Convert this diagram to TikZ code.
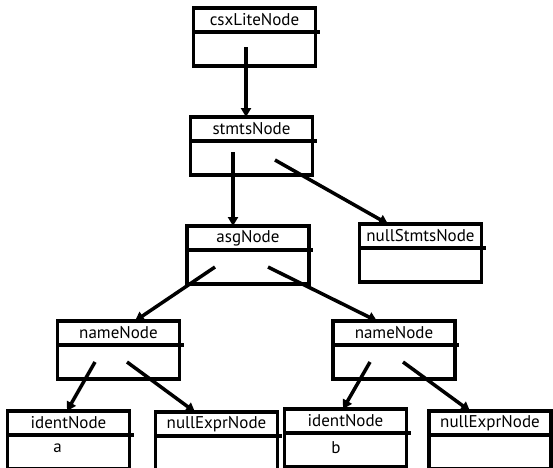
\documentclass[tikz,border=0pt]{standalone}
\usepackage{fontspec}
\setmainfont{PT Sans}
\usetikzlibrary{arrows.meta,positioning}
\tikzset{headcell/.style={draw,rectangle,line width=3.5pt,minimum width=122pt,minimum height=24pt,
        inner sep=0,outer sep=0,anchor=north,font=\fontsize{17}{19}\selectfont,
        append after command={(\tikzlastnode.south east) edge[line width=3.5pt] ([xshift=4pt]\tikzlastnode.south east)}},
    bodycell/.style={draw,rectangle,line width=3.5pt,minimum width=122pt,minimum height=34pt,inner sep=0,outer sep=0},
    valtext/.style={font=\fontsize{17}{19}\selectfont,inner sep=0},
    ptr/.style={-{Triangle[length=9pt,width=10pt]},line width=3.5pt}}
\begin{document}
\begin{tikzpicture}[x=1pt,y=-1pt]

\useasboundingbox (0,0) rectangle (553,467);

\node (csx h) [headcell] at (254.5,8) {csxLiteNode};
\node (csx b) [bodycell,below=0pt of csx h] {};
\node (stmts h) [headcell] at (251.5,117) {stmtsNode};
\node (stmts b) [bodycell,below=0pt of stmts h] {};
\node (asg h) [headcell] at (248,226) {asgNode};
\node (asg b) [bodycell,below=0pt of asg h] {};
\node (nullstmts h) [headcell] at (420.5,224) {nullStmtsNode};
\node (nullstmts b) [bodycell,below=0pt of nullstmts h] {};
\node (name 1 h) [headcell] at (118.5,321) {nameNode};
\node (name 1 b) [bodycell,below=0pt of name 1 h] {};
\node (name 2 h) [headcell] at (394,321) {nameNode};
\node (name 2 b) [bodycell,below=0pt of name 2 h] {};
\node (ident 1 h) [headcell] at (68.5,411) {identNode};
\node (ident 1 b) [bodycell,below=0pt of ident 1 h] {};
\node (nullexpr 1 h) [headcell] at (216.5,412) {nullExprNode};
\node (nullexpr 1 b) [bodycell,below=0pt of nullexpr 1 h] {};
\node (ident 2 h) [headcell] at (345.5,409) {identNode};
\node (ident 2 b) [bodycell,below=0pt of ident 2 h] {};
\node (nullexpr 2 h) [headcell] at (490,411) {nullExprNode};
\node (nullexpr 2 b) [bodycell,below=0pt of nullexpr 2 h] {};

\node (val a) [valtext] at ([xshift=-11pt,yshift=4pt]ident 1 b.center) {a};
\node (val b) [valtext] at ([xshift=-9.5pt,yshift=2pt]ident 2 b.center) {b};

\draw [ptr] ([xshift=-8.5pt,yshift=2pt]csx b.center) -- ([xshift=-5.5pt]stmts h.north);
\draw [ptr] ([xshift=-18.5pt,yshift=6pt]stmts b.center) -- ([xshift=-15pt]asg h.north);
\draw [ptr] ([xshift=23.5pt,yshift=-2pt]stmts b.center) -- ([xshift=-32.5pt]nullstmts h.north);
\draw [ptr] ([xshift=-33pt]asg b.center) -- ([xshift=16.5pt]name 1 h.north);
\draw [ptr] ([xshift=20pt]asg b.center) -- ([xshift=-17pt]name 2 h.north);
\draw [ptr] ([xshift=-23.5pt]name 1 b.center) -- ([xshift=-1.5pt]ident 1 h.north);
\draw [ptr] ([xshift=8.5pt]name 1 b.center) -- ([xshift=-21.5pt]nullexpr 1 h.north);
\draw [ptr] ([xshift=-24pt]name 2 b.center) -- ([xshift=-2.5pt]ident 2 h.north);
\draw [ptr] ([xshift=9pt]name 2 b.center) -- ([xshift=-20pt]nullexpr 2 h.north);

\end{tikzpicture}
\end{document}
